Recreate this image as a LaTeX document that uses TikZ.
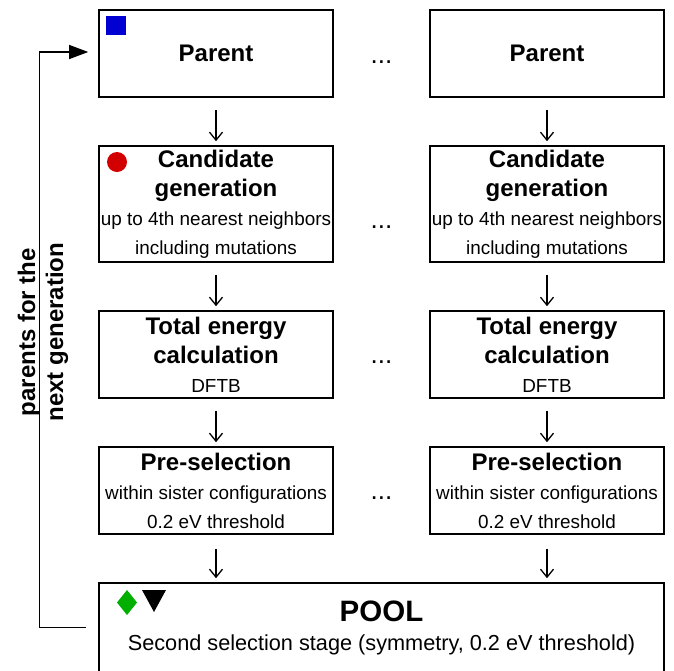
\documentclass[tikz,border=0pt]{standalone}
\usepackage{fontspec}
\setmainfont{Liberation Sans}
\usetikzlibrary{arrows.meta}

\definecolor{markblue}{RGB}{0,0,210}
\definecolor{markred}{RGB}{210,0,0}
\definecolor{markgreen}{RGB}{0,175,0}

\newcommand{\bodyfont}{\fontsize{18.9}{29}\selectfont}
\newcommand{\headfont}{\fontsize{24}{29}\selectfont\bfseries}
\newcommand{\head}[1]{{\headfont #1}}

\tikzset{
	stage/.style={draw, line width=1.6pt, minimum width=234, minimum height=87, inner sep=0pt, align=center, font=\bodyfont},
	flow/.style={-{Straight Barb[length=8pt,width=13pt]}, line width=1.3pt},
	back/.style={-{Triangle[length=19pt,width=14pt]}, line width=1.1pt},
}

\begin{document}
\begin{tikzpicture}[x=1pt, y=-1pt]
	\useasboundingbox (0,0) rectangle (674,670);
	\foreach \col/\x in {1/216, 2/547} {
		\node[stage] (par\col) at (\x,53.5) {\head{Parent}};
		\node[stage, minimum height=116] (cand\col) at (\x,204) {\head{Candidate}\\\head{generation}\\up to 4th nearest neighbors\\including mutations};
		\node[stage] (ener\col) at (\x,354.5) {\head{Total energy}\\\head{calculation}\\DFTB};
		\node[stage] (pre\col) at (\x,490.5) {\head{Pre-selection}\\within sister configurations\\0.2 eV threshold};
	}
	\node[stage, minimum width=565, minimum height=89] (pool) at (381.5,627.5) {{\fontsize{29.5}{29}\selectfont\bfseries POOL}\\{\fontsize{21.7}{29}\selectfont Second selection stage (symmetry, 0.2 eV threshold)}};
	
	\foreach \col in {1,2} {
		\draw[flow] ([yshift=-12pt]par\col.south) -- ([yshift=4pt]cand\col.north);
		\draw[flow] ([yshift=-12pt]cand\col.south) -- ([yshift=4pt]ener\col.north);
		\draw[flow] ([yshift=-12pt]ener\col.south) -- ([yshift=4pt]pre\col.north);
		\draw[flow] ([yshift=-14pt]pre\col.south) -- ([yshift=4pt]pool.north -| par\col.south);
	}
	
	% gaps between the columns
	\foreach \name/\y in {gapA/63, gapB/228.5, gapC/363.5, gapD/499.5} {
		\node[anchor=base, font=\fontsize{26}{29}\selectfont] (\name) at (381.5,\y) {...};
	}
	
	% loop back to the parents
	\coordinate (turn) at (39.5,627.5);
	\draw[back] ([xshift=-12pt]pool.west) -- (turn) |- ([xshift=-10pt, yshift=1.5pt]par1.west);
	\node[rotate=90, align=center, font=\fontsize{24}{28}\selectfont\bfseries] (loop) at (43,332) {parents for the\\next generation};
	
	% markers
	\fill[markblue] (106,16) rectangle (126,35);
	\fill[markred] (117,162) circle (10);
	\fill[markgreen] (127,590) -- (137,602.5) -- (127,615) -- (117,602.5) -- cycle;
	\fill[black] (142,590) -- (166,590) -- (154,612) -- cycle;
\end{tikzpicture}
\end{document}
